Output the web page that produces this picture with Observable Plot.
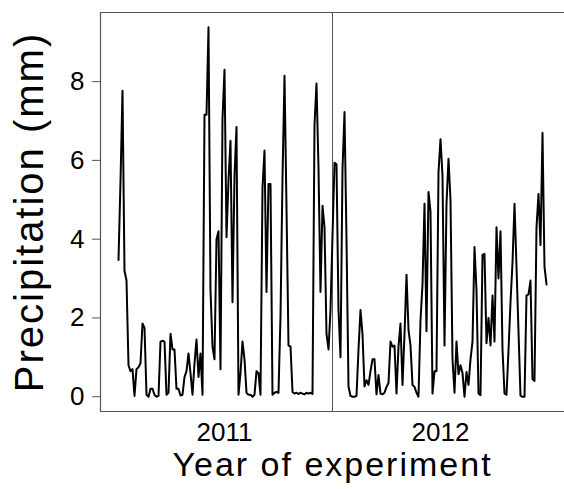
<!DOCTYPE html>
<html>
<head>
<meta charset="utf-8">
<script src="https://cdn.jsdelivr.net/npm/d3@7"></script>
<script src="https://cdn.jsdelivr.net/npm/@observablehq/plot@0.6"></script>
<style>
  html, body { margin: 0; padding: 0; background: #fff; }
</style>
</head>
<body>
<div id="chart"></div>
<script>
// Daily precipitation (mm), season 2011 (index 0..106)
const rain2011 = [
  3.47, 5.47, 7.77, 3.2, 2.95, 0.8, 0.65, 0.7, 0.02, 0.7,
  0.75, 0.85, 1.86, 1.75, 0.05, 0.0, 0.2, 0.2, 0.05, 0.0,
  0.02, 1.4, 1.42, 1.4, 0.05, 0.1, 1.6, 1.2, 1.2, 0.2,
  0.2, 0.03, 0.05, 0.5, 0.65, 1.1, 0.6, 0.05, 0.85, 1.45,
  0.5, 1.1, 0.05, 7.16, 7.16, 9.38, 2.7, 1.28, 0.95, 4.0,
  4.2, 0.7, 7.06, 8.3, 4.05, 5.5, 6.5, 2.4, 5.6, 6.85,
  0.05, 0.6, 1.4, 0.95, 0.1, 0.05, 0.05, 0.0, 0.05, 0.65,
  0.6, 0.05, 5.3, 6.25, 2.66, 5.4, 5.4, 0.05, 0.1, 0.12,
  0.1, 2.05, 5.55, 8.15, 4.8, 1.3, 1.28, 0.12, 0.08, 0.1,
  0.07, 0.1, 0.08, 0.06, 0.1, 0.08, 0.1, 0.07, 6.9, 7.95,
  5.8, 2.66, 4.85, 4.3, 1.6, 1.2, 2.2
];
// Daily precipitation (mm), season 2012
const rain2012 = [
  5.94, 5.9, 2.2, 1.0, 5.77, 7.23, 4.0, 0.26, 0.02, 0.0,
  0.0, 0.02, 1.2, 2.2, 1.58, 0.26, 0.42, 0.3, 0.65, 0.95,
  0.95, 0.06, 0.55, 0.08, 0.06, 0.1, 0.25, 0.35, 1.4, 1.27,
  1.3, 0.08, 1.27, 1.86, 0.3, 1.58, 3.1, 1.7, 1.3, 0.3,
  0.25, 0.1, 0.0, 1.94, 2.85, 4.9, 1.66, 5.2, 4.7, 0.08,
  0.65, 0.65, 5.7, 6.54, 5.6, 1.3, 4.9, 6.04, 5.0, 0.95,
  0.1, 1.4, 0.57, 0.8, 0.6, 0.0, 0.63, 0.3, 0.95, 1.4,
  3.8, 2.7, 0.08, 0.04, 3.6, 3.63, 1.36, 2.0, 1.3, 2.57,
  1.4, 4.3, 3.0, 4.2, 1.2, 0.08, 0.05, 1.18, 2.4, 3.4,
  4.9, 3.3, 1.66, 0.02, 0.0, 0.0, 2.57, 2.6, 2.95, 0.45,
  0.4, 4.3, 5.15, 3.85, 6.7, 3.3, 2.85
];
const yearLabels = ["2011", "2012"];
const yTicks = [0, 2, 4, 6, 8];
const xTitle = "Year of experiment";
const yTitle = "Precipitation (mm)";

// Build table
const start2012 = rain2011.length + 1;
const data = [
  ...rain2011.map((v, i) => ({day: i, rain: v})),
  ...rain2012.map((v, i) => ({day: start2012 + i, rain: v}))
];
const separator = rain2011.length; // between the two seasons
const yearCenters = [
  (0 + rain2011.length - 1) / 2,
  (start2012 + start2012 + rain2012.length - 1) / 2
];
const xDomain = [-9, 223];
const yDomain = [-0.375, 9.755];
const axisColor = "#555";
const fontFamily = "'Liberation Sans', Arial, Helvetica, sans-serif";

const chart = Plot.plot({
  width: 564,
  height: 489,
  marginLeft: 100,
  marginRight: 0,
  marginTop: 12,
  marginBottom: 78,
  style: {fontFamily, background: "white", color: "black", overflow: "visible"},
  x: {domain: xDomain},
  y: {domain: yDomain},
  marks: [
    Plot.ruleY([yDomain[0]], {stroke: axisColor, strokeWidth: 1.2}),
    Plot.ruleY([yDomain[1]], {stroke: axisColor, strokeWidth: 1.2}),
    Plot.ruleX([xDomain[0]], {stroke: axisColor, strokeWidth: 1.2}),
    Plot.ruleX([separator], {stroke: axisColor, strokeWidth: 1}),
    Plot.lineY(data, {x: "day", y: "rain", stroke: "black", strokeWidth: 2, strokeLinejoin: "round"}),
    Plot.axisY({ticks: yTicks, tickSize: 8, tickPadding: 8, fontSize: 26, label: null, stroke: axisColor}),
    Plot.axisX({ticks: yearCenters, tickFormat: d => yearLabels[yearCenters.indexOf(d)], tickSize: 0, tickPadding: 11, fontSize: 26, label: null}),
    Plot.text([yTitle], {text: d => d, frameAnchor: "left", textAnchor: "middle", lineAnchor: "middle", rotate: -90, dx: -70, fontSize: 40, fill: "black"}),
    Plot.text([xTitle], {text: d => d, frameAnchor: "bottom", textAnchor: "middle", lineAnchor: "middle", dy: 54, fontSize: 34, fill: "black"})
  ]
});
// letter spacing on the two titles (their lettering is wide in the reference)
chart.querySelectorAll("g[aria-label='text'] text").forEach(t => t.setAttribute("letter-spacing", "2"));
document.getElementById("chart").appendChild(chart);
</script>
</body>
</html>
